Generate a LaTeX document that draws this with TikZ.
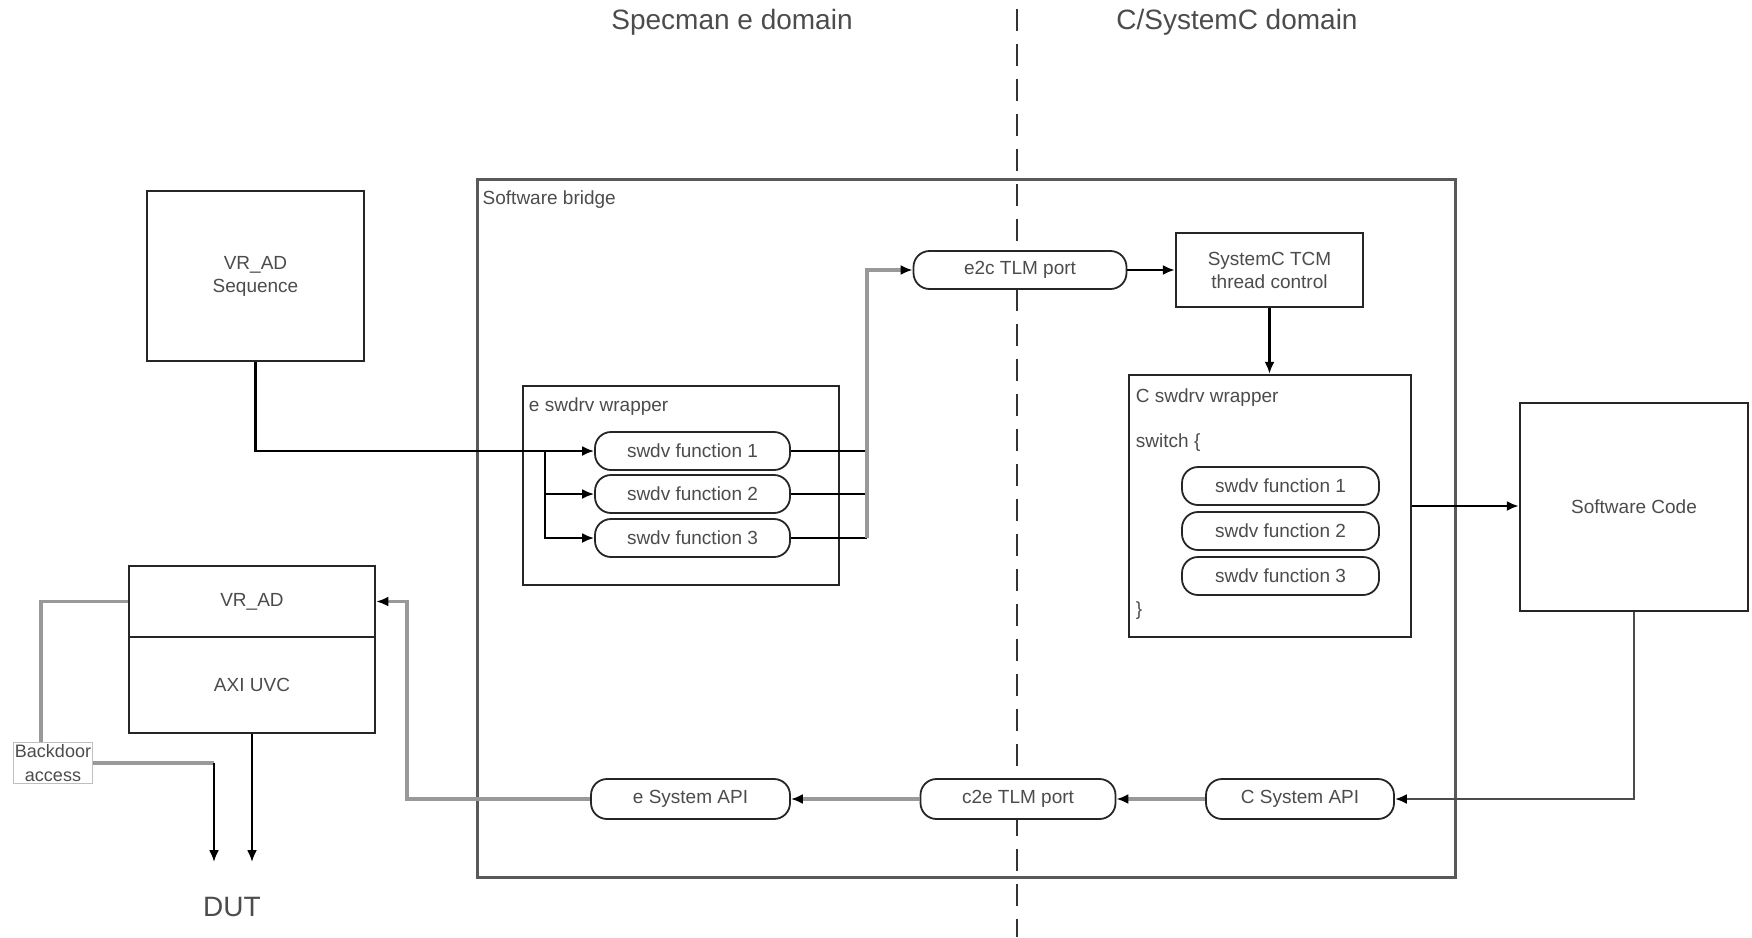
\documentclass[tikz,border=0pt]{standalone}
\usepackage{fontspec}
\setmainfont{Liberation Sans}
\usetikzlibrary{arrows.meta}

\tikzset{
  every node/.style={text=black!70, font=\fontsize{19}{23}\selectfont},
  bigtext/.style={font=\fontsize{28}{32}\selectfont},
  blockbox/.style={draw=black!85, line width=2.5pt, fill=white, inner sep=0pt, align=center},
  pill/.style={draw=black!85, line width=1.8pt, fill=white, rounded corners=16pt, inner sep=0pt, minimum height=38pt},
  cornerlabel/.style={anchor=base west, inner sep=0pt},
  wire/.style={line width=2.2pt, black},
  darkwire/.style={line width=2.2pt, black!70},
  greywire/.style={line width=3.5pt, black!40},
  tip/.style={-{Latex[length=12pt,width=10pt,color=black]}},
}

\begin{document}
\begin{tikzpicture}[x=1pt, y=-1pt]
	\useasboundingbox (0,0) rectangle (1752,937);

	% domain titles and divider
	\node[bigtext] (spec) at (732,22) {Specman e domain};
	\node[bigtext] (csys) at (1237,22) {C/SystemC domain};
	\node[draw=black!65, line width=3pt, minimum width=978pt, minimum height=698pt, inner sep=0pt] (bridge) at (966,528) {};
	\node[cornerlabel] (bridgelbl) at ([shift={(7pt,-27pt)}]bridge.north west) {Software bridge};
	\coordinate (dtop) at (1017,9);
	\coordinate (dbot) at (1017,937);
	\draw[black!80, line width=2pt, dash pattern=on 22pt off 13pt] (dtop) -- (dbot);

	% e side
	\node[blockbox, minimum width=217pt, minimum height=170pt] (seq) at (255.5,276) {VR\_AD\\Sequence};
	\node[blockbox, minimum width=316pt, minimum height=199pt] (ewrap) at (681,485.5) {};
	\node[cornerlabel] (ewraplbl) at ([shift={(7pt,-27pt)}]ewrap.north west) {e swdrv wrapper};
	\foreach \i/\y in {1/451, 2/494, 3/538}
		\node[pill, minimum width=195pt] (ef\i) at (692.5,\y) {swdv function \i};

	% C side
	\node[pill, minimum width=213pt] (e2c) at (1020,270) {e2c TLM port};
	\node[blockbox, minimum width=187pt, minimum height=74pt] (tcm) at (1269.5,270) {SystemC TCM\\thread control};
	\node[blockbox, minimum width=282pt, minimum height=262pt] (cwrap) at (1270,506) {};
	\node[cornerlabel] (cwraplbl) at ([shift={(8pt,-29pt)}]cwrap.north west) {C swdrv wrapper};
	\node[cornerlabel] (cswitch) at ([shift={(8pt,-74pt)}]cwrap.north west) {switch \{};
	\node[cornerlabel] (cclose) at ([shift={(8pt,23pt)}]cwrap.south west) {\}};
	\foreach \i/\y in {1/486, 2/531, 3/576}
		\node[pill, minimum width=197pt] (cf\i) at (1280.5,\y) {swdv function \i};
	\node[blockbox, minimum width=228pt, minimum height=208pt] (swcode) at (1634,507) {Software Code};

	% return path
	\node[pill, minimum width=188pt, minimum height=40pt] (capi) at (1300,799) {C System API};
	\node[pill, minimum width=195pt, minimum height=40pt] (c2e) at (1018,799) {c2e TLM port};
	\node[pill, minimum width=199pt, minimum height=40pt] (eapi) at (690.5,799) {e System API};

	% verification side
	\node[blockbox, minimum width=246pt, minimum height=71pt] (vrad) at (252,601.5) {VR\_AD};
	\node[blockbox, minimum width=246pt, minimum height=96pt, anchor=north] (axi) at ([yshift=2.5pt]vrad.south) {AXI UVC};
	\node[draw=black!25, line width=1pt, fill=white, inner sep=1.5pt, align=center, font=\fontsize{18}{24}\selectfont] (bdoor) at (53,763) {Backdoor\\access};
	\node[bigtext] (dut) at (232,907) {DUT};
	\coordinate (dutin1) at (214,862);
	\coordinate (dutin2) at (252,862);

	% connectors
	\coordinate (esplit) at (545,451);
	\coordinate (ejoin) at (867,270);
	\coordinate (eturn) at (407,799);
	\draw[wire, tip] (seq.south) |- (ef1.west);
	\draw[wire, tip] (esplit) |- (ef2.west);
	\draw[wire, tip] (esplit) |- (ef3.west);
	\foreach \i in {1,2,3}
		\draw[wire] (ef\i.east) -- (ef\i.east -| ejoin);
	\draw[greywire, tip] (ef3.east -| ejoin) -- (ejoin) -- (e2c.west);
	\draw[wire, tip] (e2c.east) -- (tcm.west);
	\draw[wire, tip] (tcm.south) -- (tcm.south |- cwrap.north);
	\draw[wire, tip] (cwrap.east) -- (cwrap.east -| swcode.west);
	\draw[darkwire, tip] (swcode.south) |- (capi.east);
	\draw[greywire, tip] (capi.west) -- (c2e.east);
	\draw[greywire, tip] (c2e.west) -- (eapi.east);
	\draw[greywire, tip] (eapi.west) -- (eturn) |- (vrad.east);
	\draw[greywire] (vrad.west) -| ([xshift=-12pt]bdoor.north);
	\draw[greywire] (bdoor.east) -- (bdoor.east -| dutin1);
	\draw[wire, tip] (bdoor.east -| dutin1) -- (dutin1);
	\draw[wire, tip] (axi.south) -- (axi.south |- dutin2);
\end{tikzpicture}
\end{document}
